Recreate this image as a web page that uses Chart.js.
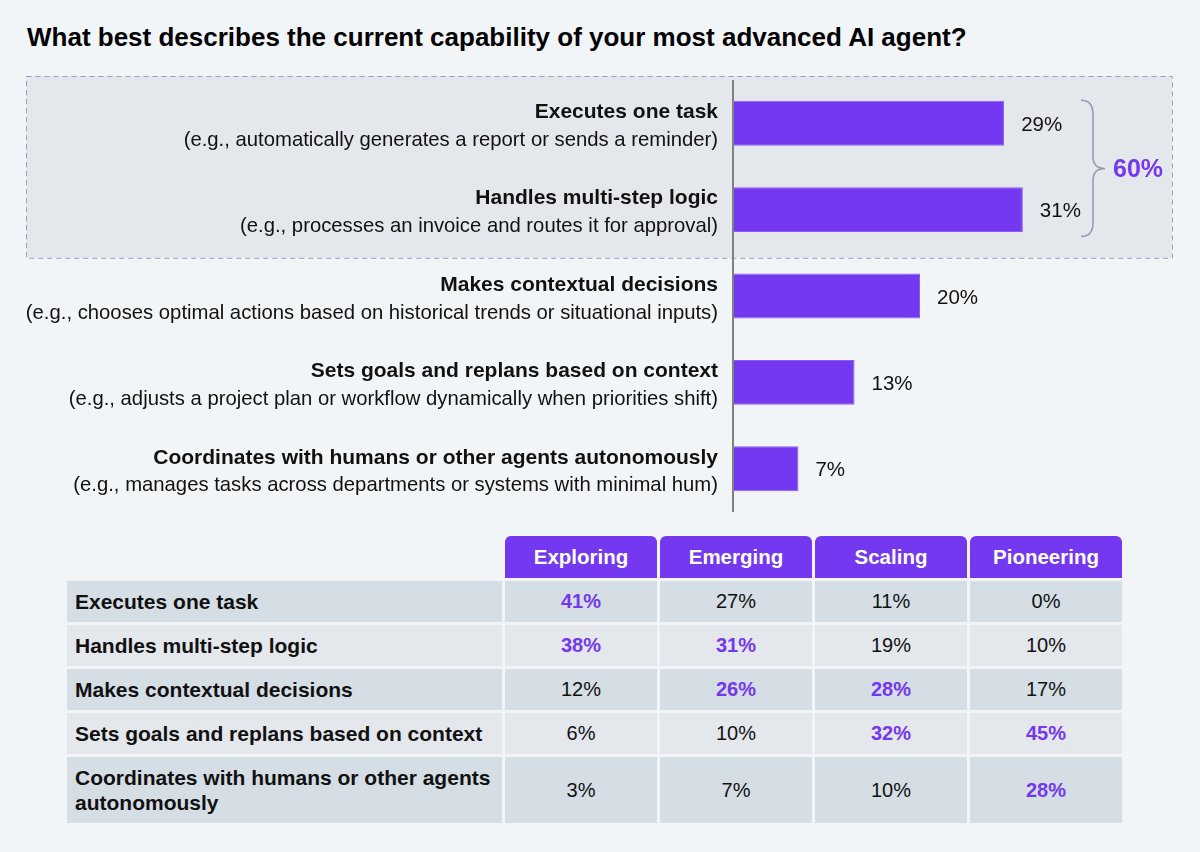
<!DOCTYPE html>
<html>
<head>
<meta charset="utf-8">
<script src="https://cdn.jsdelivr.net/npm/chart.js@4"></script>
<style>
  body { margin:0; background:#f2f5f8; font-family:"Liberation Sans", Arial, sans-serif; }
  #wrap { position:relative; width:1200px; height:852px; }
  #title { position:absolute; left:27px; top:22px; font-size:26px; font-weight:bold; color:#000; }
  #bars { position:absolute; left:0; top:0; }
  #tbl { position:absolute; left:64px; top:533px; border-collapse:separate; border-spacing:3px; font-size:20px; color:#111; }
  #tbl th { background:#7338ef; color:#fff; font-weight:bold; font-size:20.5px; height:42px; padding:0; border-radius:6px 6px 0 0; }
  #tbl th.blank { background:transparent; }
  #tbl td { height:41px; padding:0; text-align:center; }
  #tbl td.lbl { text-align:left; font-weight:bold; font-size:21px; padding-left:8px; width:427px; line-height:25px; }
  #tbl td.num { width:152px; }
  #tbl tr.blue td { background:#d5dee5; }
  #tbl tr.grey td { background:#e4e7ec; }
  #tbl tr.tall td { height:66px; }
  #tbl td.hi { color:#7338ef; font-weight:bold; }
</style>
</head>
<body>
<div id="wrap">
  <div id="title">What best describes the current capability of your most advanced AI agent?</div>
  <canvas id="bars" width="1200" height="530"></canvas>
  <table id="tbl"></table>
</div>
<script>
// bar chart data
var capabilities = ['Executes one task', 'Handles multi-step logic', 'Makes contextual decisions',
    'Sets goals and replans based on context', 'Coordinates with humans or other agents autonomously'];
var examples = ['(e.g., automatically generates a report or sends a reminder)',
    '(e.g., processes an invoice and routes it for approval)',
    '(e.g., chooses optimal actions based on historical trends or situational inputs)',
    '(e.g., adjusts a project plan or workflow dynamically when priorities shift)',
    '(e.g., manages tasks across departments or systems with minimal hum)'];
var shares = [29, 31, 20, 13, 7];
var groupedTotal = '60%';

// table data
var stages = ['Exploring', 'Emerging', 'Scaling', 'Pioneering'];
var rowLabels = ['Executes one task', 'Handles multi-step logic', 'Makes contextual decisions',
    'Sets goals and replans based on context', 'Coordinates with humans or other agents autonomously'];
var exploring = [41, 38, 12, 6, 3];
var emerging = [27, 31, 26, 10, 7];
var scaling = [11, 19, 28, 32, 10];
var pioneering = [0, 10, 17, 45, 28];
var highlighted = [[0, 1], [1, 2], [2, 3], [3, 4]]; // rows in purple, per stage

var purple = '#7338ef';
var font = '"Liberation Sans", Arial, sans-serif';

var labelPlugin = {
    id: 'labelPlugin',
    beforeDatasetsDraw: function(chart){
        var ctx = chart.ctx;
        var y = chart.scales.y;
        // dashed box round the first two rows
        var top = chart.chartArea.top - 4;
        var bottom = (y.getPixelForValue(1) + y.getPixelForValue(2)) / 2 + 5;
        ctx.save();
        ctx.fillStyle = '#e4e7ec';
        ctx.fillRect(26, top, 1146, bottom - top);
        ctx.strokeStyle = '#91a3bb';
        ctx.lineWidth = 1;
        ctx.setLineDash([5, 4]);
        ctx.strokeRect(26.5, top + 0.5, 1146, bottom - top);
        ctx.restore();
    },
    afterDatasetsDraw: function(chart){
        var ctx = chart.ctx;
        var x = chart.scales.x, y = chart.scales.y;
        var area = chart.chartArea;
        ctx.save();
        // axis line
        ctx.strokeStyle = '#808080';
        ctx.lineWidth = 2;
        ctx.beginPath();
        ctx.moveTo(area.left, area.top);
        ctx.lineTo(area.left, area.bottom);
        ctx.stroke();

        ctx.textBaseline = 'middle';
        $each(capabilities, function(i, name){
            var cy = y.getPixelForValue(i);
            ctx.textAlign = 'right';
            ctx.fillStyle = '#111';
            ctx.font = 'bold 21px ' + font;
            ctx.fillText(name, area.left - 15, cy - 11);
            ctx.font = '20.3px ' + font;
            ctx.fillText(examples[i], area.left - 15, cy + 17);
            ctx.textAlign = 'left';
            ctx.font = '20.5px ' + font;
            ctx.fillText(shares[i] + '%', x.getPixelForValue(shares[i]) + 17, cy + 2);
        });

        // brace for first two rows
        var bTop = y.getPixelForValue(0) - 23;
        var bBot = y.getPixelForValue(1) + 27;
        var mid = (bTop + bBot) / 2;
        var x0 = 1081;
        ctx.strokeStyle = '#8a9bb5';
        ctx.lineWidth = 1.5;
        ctx.beginPath();
        ctx.moveTo(x0, bTop);
        ctx.quadraticCurveTo(x0 + 12, bTop, x0 + 12, bTop + 14);
        ctx.lineTo(x0 + 12, mid - 12);
        ctx.quadraticCurveTo(x0 + 12, mid, x0 + 24, mid);
        ctx.quadraticCurveTo(x0 + 12, mid, x0 + 12, mid + 12);
        ctx.lineTo(x0 + 12, bBot - 14);
        ctx.quadraticCurveTo(x0 + 12, bBot, x0, bBot);
        ctx.stroke();
        ctx.fillStyle = purple;
        ctx.font = 'bold 25px ' + font;
        ctx.fillText(groupedTotal, x0 + 32, mid + 2);
        ctx.restore();
    }
};

function $each(arr, fn){
    for(var i = 0; i < arr.length; i++){ fn(i, arr[i]); }
}

new Chart(document.getElementById('bars'), {
    type: 'bar',
    data: {
        labels: capabilities,
        datasets: [{
            data: shares,
            backgroundColor: purple,
            borderColor: '#8a5cf6',
            borderWidth: 1,
            barPercentage: 0.52,
            categoryPercentage: 1
        }]
    },
    options: {
        responsive: false,
        animation: false,
        indexAxis: 'y',
        layout: { padding: { left: 733, right: 93, top: 80, bottom: 18 } },
        plugins: { legend: { display: false }, tooltip: { enabled: false } },
        scales: {
            x: { display: false, min: 0, max: 40 },
            y: { display: false }
        }
    },
    plugins: [labelPlugin]
});

// table below the chart
var renderTable = function(){
    var cols = [exploring, emerging, scaling, pioneering];
    var html = '<tr><th class="blank"></th>';
    $each(stages, function(i, s){ html += '<th>' + s + '</th>'; });
    html += '</tr>';
    $each(rowLabels, function(r, label){
        var cls = (r % 2 == 0 ? 'blue' : 'grey') + (r == rowLabels.length - 1 ? ' tall' : '');
        var row = '<tr class="' + cls + '"><td class="lbl">' +
            (r == rowLabels.length - 1 ? 'Coordinates with humans or other agents<br>autonomously' : label) + '</td>';
        $each(cols, function(c, col){
            var hi = highlighted[c].indexOf(r) != -1 ? ' hi' : '';
            row += '<td class="num' + hi + '">' + col[r] + '%</td>';
        });
        html += row + '</tr>';
    });
    document.getElementById('tbl').innerHTML = html;
};
renderTable();
</script>
</body>
</html>
